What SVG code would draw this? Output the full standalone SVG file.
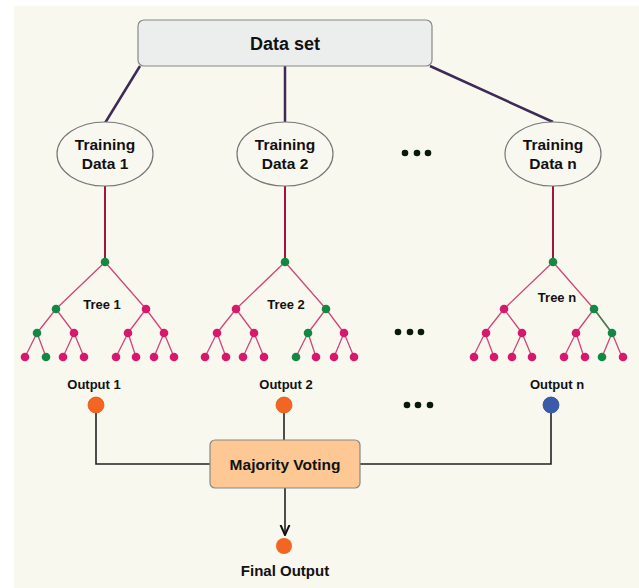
<svg xmlns="http://www.w3.org/2000/svg" width="639" height="588" viewBox="0 0 639 588">
<defs>
<style>
.t{font-family:"Liberation Sans",Arial,sans-serif;font-weight:bold;fill:#111;text-anchor:middle}
.ell{fill:#f9f8f0;stroke:#777;stroke-width:1.2}
.top{stroke:#3d2a57;stroke-width:2.5;fill:none}
.stem{stroke:#a8123e;stroke-width:2;fill:none}
.edge{stroke:#d2457a;stroke-width:1.3;fill:none}
.g{fill:#138843}
.p{fill:#d8186c}
.conn{stroke:#222;stroke-width:1.6;fill:none}
.dot{fill:#0a1a0a}
</style>
<path id="edges" d="M0,0 L-49,47 M0,0 L41,47 M-49,47 L-68,71 M-49,47 L-31,71 M41,47 L23,71 M41,47 L59,71 M-68,71 L-80,95 M-68,71 L-59,95 M-31,71 L-42,95 M-31,71 L-21,95 M23,71 L11,95 M23,71 L31,95 M59,71 L49,95 M59,71 L69,95"/>
<marker id="arr" viewBox="0 0 10 10" refX="9" refY="5" markerWidth="7" markerHeight="7" orient="auto"><path d="M0,1 L9,5 L0,9" fill="none" stroke="#111" stroke-width="1.8"/></marker>
</defs>
<rect width="639" height="588" fill="#ffffff"/>
<rect x="14" y="6" width="625" height="582" fill="#f9f8ef"/>

<g id="connectors">
<path class="top" d="M140,66 L105,123"/>
<path class="top" d="M285,66 L285,123"/>
<path class="top" d="M430,66 L553,122"/>
<path class="stem" d="M105,186 L105,262"/>
<path class="stem" d="M285,186 L285,262"/>
<path class="stem" d="M553,186 L553,262"/>
<path class="conn" d="M96,413 L96,464 L210,464"/>
<path class="conn" d="M284,413 L284,440"/>
<path class="conn" d="M551,413 L551,464 L360,464"/>
<path class="conn" d="M285,488 L285,535" marker-end="url(#arr)"/>
</g>

<g id="dataset">
<rect x="138" y="20" width="294" height="46" rx="6" fill="#eceeee" stroke="#888" stroke-width="1.2"/>
<text class="t" x="285" y="50" font-size="18">Data set</text>
</g>

<g id="training1">
<ellipse class="ell" cx="105" cy="154" rx="48" ry="32"/>
<text class="t" x="105" y="150" font-size="15.5">Training</text>
<text class="t" x="105" y="169" font-size="15.5">Data 1</text>
</g>
<g id="training2">
<ellipse class="ell" cx="285" cy="154" rx="48" ry="32"/>
<text class="t" x="285" y="150" font-size="15.5">Training</text>
<text class="t" x="285" y="169" font-size="15.5">Data 2</text>
</g>
<g id="trainingn">
<ellipse class="ell" cx="553" cy="154" rx="48" ry="32"/>
<text class="t" x="553" y="150" font-size="15.5">Training</text>
<text class="t" x="553" y="169" font-size="15.5">Data n</text>
</g>

<g id="dots-top"><circle class="dot" cx="405" cy="153" r="3.3"/><circle class="dot" cx="417" cy="153" r="3.3"/><circle class="dot" cx="428" cy="153" r="3.3"/></g>
<g id="dots-mid"><circle class="dot" cx="398" cy="332" r="3.3"/><circle class="dot" cx="410" cy="332" r="3.3"/><circle class="dot" cx="421" cy="332" r="3.3"/></g>
<g id="dots-out"><circle class="dot" cx="407" cy="405" r="3.3"/><circle class="dot" cx="418" cy="405" r="3.3"/><circle class="dot" cx="430" cy="405" r="3.3"/></g>

<g id="tree1" transform="translate(105,262)">
<use href="#edges" class="edge"/>
<circle class="g" cx="0" cy="0" r="4.3"/>
<circle class="g" cx="-49" cy="47" r="4.3"/><circle class="p" cx="41" cy="47" r="4.3"/>
<circle class="g" cx="-68" cy="71" r="4.3"/><circle class="p" cx="-31" cy="71" r="4.3"/><circle class="p" cx="23" cy="71" r="4.3"/><circle class="p" cx="59" cy="71" r="4.3"/>
<circle class="p" cx="-80" cy="95" r="4.3"/><circle class="g" cx="-59" cy="95" r="4.3"/><circle class="p" cx="-42" cy="95" r="4.3"/><circle class="p" cx="-21" cy="95" r="4.3"/>
<circle class="p" cx="11" cy="95" r="4.3"/><circle class="p" cx="31" cy="95" r="4.3"/><circle class="p" cx="49" cy="95" r="4.3"/><circle class="p" cx="69" cy="95" r="4.3"/>
<text class="t" x="-3" y="47" font-size="13">Tree 1</text>
</g>

<g id="tree2" transform="translate(285,262)">
<use href="#edges" class="edge"/>
<circle class="g" cx="0" cy="0" r="4.3"/>
<circle class="p" cx="-49" cy="47" r="4.3"/><circle class="g" cx="41" cy="47" r="4.3"/>
<circle class="p" cx="-68" cy="71" r="4.3"/><circle class="p" cx="-31" cy="71" r="4.3"/><circle class="g" cx="23" cy="71" r="4.3"/><circle class="p" cx="59" cy="71" r="4.3"/>
<circle class="p" cx="-80" cy="95" r="4.3"/><circle class="p" cx="-59" cy="95" r="4.3"/><circle class="p" cx="-42" cy="95" r="4.3"/><circle class="p" cx="-21" cy="95" r="4.3"/>
<circle class="g" cx="11" cy="95" r="4.3"/><circle class="p" cx="31" cy="95" r="4.3"/><circle class="p" cx="49" cy="95" r="4.3"/><circle class="p" cx="69" cy="95" r="4.3"/>
<text class="t" x="1" y="47" font-size="13">Tree 2</text>
</g>

<g id="treen" transform="translate(553,262)">
<use href="#edges" class="edge"/>
<path d="M41,47 L59,71" stroke="#2a8a4a" stroke-width="1.3"/>
<circle class="g" cx="0" cy="0" r="4.3"/>
<circle class="p" cx="-49" cy="47" r="4.3"/><circle class="g" cx="41" cy="47" r="4.3"/>
<circle class="p" cx="-67" cy="71" r="4.3"/><circle class="p" cx="-31" cy="71" r="4.3"/><circle class="p" cx="23" cy="71" r="4.3"/><circle class="g" cx="59" cy="71" r="4.3"/>
<circle class="p" cx="-79" cy="95" r="4.3"/><circle class="p" cx="-59" cy="95" r="4.3"/><circle class="p" cx="-41" cy="95" r="4.3"/><circle class="p" cx="-21" cy="95" r="4.3"/>
<circle class="p" cx="11" cy="95" r="4.3"/><circle class="p" cx="32" cy="95" r="4.3"/><circle class="g" cx="49" cy="95" r="4.3"/><circle class="p" cx="70" cy="95" r="4.3"/>
<text class="t" x="4" y="40" font-size="13">Tree n</text>
</g>

<g id="output1">
<text class="t" x="94" y="389" font-size="13">Output 1</text>
<circle cx="96" cy="405" r="8" fill="#f26522" stroke="#e05a1c" stroke-width="0.8"/>
</g>
<g id="output2">
<text class="t" x="286" y="389" font-size="13">Output 2</text>
<circle cx="284" cy="405" r="8" fill="#f26522" stroke="#e05a1c" stroke-width="0.8"/>
</g>
<g id="outputn">
<text class="t" x="557" y="389" font-size="13">Output n</text>
<circle cx="551" cy="405" r="8" fill="#3a5aab" stroke="#2f4c96" stroke-width="0.8"/>
</g>

<g id="voting">
<rect x="210" y="440" width="150" height="48" rx="5" fill="#fdc893" stroke="#888" stroke-width="1.2"/>
<text class="t" x="285" y="469.5" font-size="15.5">Majority Voting</text>
</g>

<g id="final">
<circle cx="284" cy="546" r="8" fill="#f26522"/>
<text class="t" x="285" y="576" font-size="15">Final Output</text>
</g>
</svg>
